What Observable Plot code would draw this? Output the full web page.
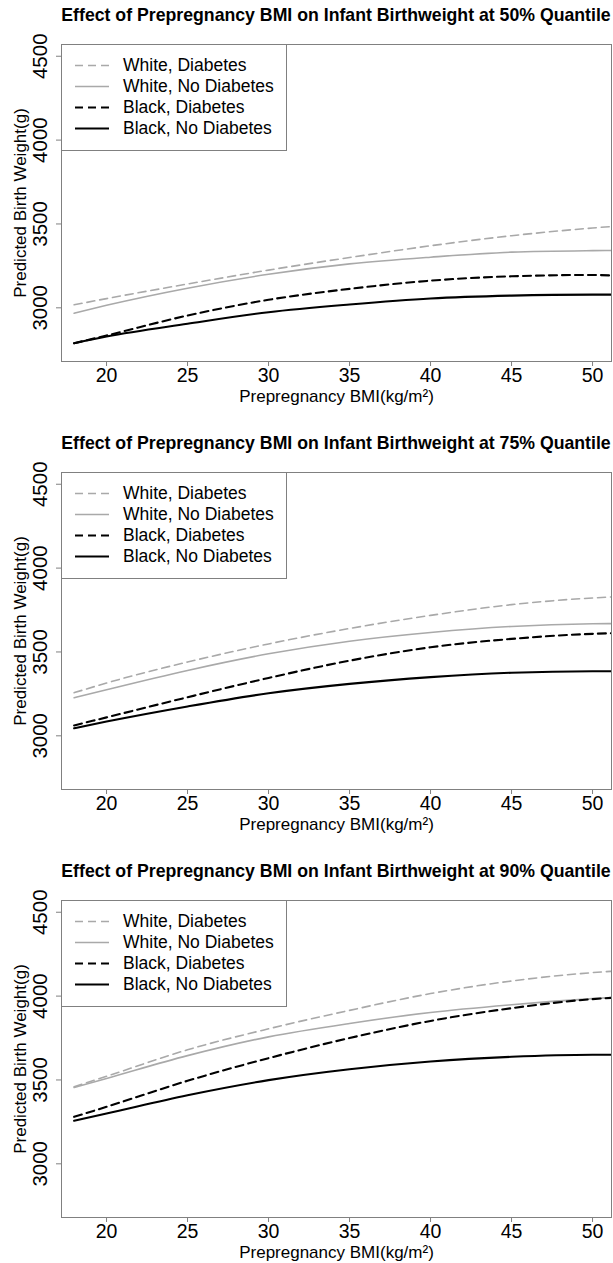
<!DOCTYPE html>
<html><head><meta charset="utf-8">
<script src="https://cdn.jsdelivr.net/npm/d3@7"></script>
<script src="https://cdn.jsdelivr.net/npm/@observablehq/plot@0.6"></script>
<style>
body{margin:0;background:#fff;font-family:"Liberation Sans",Arial,sans-serif;color:#000;}
.panel{position:relative;width:613px;height:428px;overflow:hidden;}
.title{position:absolute;left:61px;width:550px;top:0;height:30px;line-height:30px;text-align:center;font-weight:bold;font-size:17.7px;white-space:nowrap;}
.chart{position:absolute;left:0;top:30px;}
.legend{position:absolute;left:61px;top:44px;width:226px;height:107px;box-sizing:border-box;border:1px solid #808080;background:#fff;}
.row{position:absolute;left:0;width:224px;height:21px;}
.row svg{position:absolute;left:13px;top:0;}
.row span{position:absolute;left:61px;top:0;line-height:21px;font-size:17.5px;white-space:nowrap;}
svg [aria-label="x-axis tick"], svg [aria-label="y-axis tick"]{stroke:#808080;}
</style>
</head><body>
<div id="root"></div>
<script>
// ---- data ----
const bmi = [18, 20, 25, 30, 35, 40, 45, 50, 51.2];
const quantiles = ["50%", "75%", "90%"];
const seriesNames = ["White, Diabetes", "White, No Diabetes", "Black, Diabetes", "Black, No Diabetes"];

const q50WhiteDiabetes   = [3018, 3055, 3142, 3225, 3300, 3370, 3430, 3476, 3485];
const q50WhiteNoDiabetes = [2968, 3015, 3117, 3200, 3262, 3302, 3332, 3341, 3342];
const q50BlackDiabetes   = [2789, 2835, 2954, 3048, 3113, 3162, 3188, 3196, 3193];
const q50BlackNoDiabetes = [2789, 2829, 2905, 2974, 3020, 3056, 3073, 3079, 3079];

const q75WhiteDiabetes   = [3257, 3315, 3440, 3548, 3640, 3718, 3782, 3822, 3828];
const q75WhiteNoDiabetes = [3227, 3275, 3390, 3489, 3564, 3616, 3652, 3668, 3669];
const q75BlackDiabetes   = [3062, 3110, 3230, 3345, 3448, 3528, 3578, 3608, 3612];
const q75BlackNoDiabetes = [3045, 3085, 3175, 3254, 3310, 3350, 3376, 3385, 3385];

const q90WhiteDiabetes   = [3460, 3522, 3680, 3805, 3915, 4015, 4090, 4140, 4148];
const q90WhiteNoDiabetes = [3455, 3509, 3645, 3757, 3837, 3902, 3948, 3985, 3992];
const q90BlackDiabetes   = [3280, 3340, 3495, 3630, 3750, 3852, 3928, 3982, 3990];
const q90BlackNoDiabetes = [3257, 3300, 3409, 3499, 3564, 3610, 3638, 3650, 3650];

const xTicks = [20, 25, 30, 35, 40, 45, 50];
const yTicks = [3000, 3500, 4000, 4500];
const xLabel = "Prepregnancy BMI(kg/m²)";
const yLabel = "Predicted Birth Weight(g)";
const titlePrefix = "Effect of Prepregnancy BMI on Infant Birthweight at ";
const titleSuffix = " Quantile";

// ---- styles ----
const styles = [
  {stroke: "#a9a9a9", width: 1.6, dash: "8,5"},
  {stroke: "#a9a9a9", width: 1.6, dash: null},
  {stroke: "#000000", width: 2.1, dash: "8,5"},
  {stroke: "#000000", width: 2.1, dash: null}
];
const panels = [
  [q50WhiteDiabetes, q50WhiteNoDiabetes, q50BlackDiabetes, q50BlackNoDiabetes],
  [q75WhiteDiabetes, q75WhiteNoDiabetes, q75BlackDiabetes, q75BlackNoDiabetes],
  [q90WhiteDiabetes, q90WhiteNoDiabetes, q90BlackDiabetes, q90BlackNoDiabetes]
];

const root = document.getElementById("root");
panels.forEach((series, p) => {
  const panel = document.createElement("div");
  panel.className = "panel";
  const title = document.createElement("div");
  title.className = "title";
  title.textContent = titlePrefix + quantiles[p] + titleSuffix;
  panel.appendChild(title);

  const marks = [
    Plot.frame({stroke: "#808080", strokeWidth: 1}),
    Plot.axisX({ticks: xTicks, tickSize: 5, tickPadding: 2, fontSize: 19.5, label: null}),
    Plot.axisY({ticks: yTicks, tickSize: 5, tickFormat: () => "", label: null}),
    Plot.text(yTicks, {y: d => d, text: d => String(d), frameAnchor: "left", dx: -21, rotate: -90,
      textAnchor: "middle", lineAnchor: "middle", fontSize: 20.5, fill: "#000"}),
    Plot.text([xLabel], {text: d => d, frameAnchor: "bottom", dy: 35, lineAnchor: "middle", fontSize: 17, fill: "#000"}),
    Plot.text([yLabel], {text: d => d, frameAnchor: "left", dx: -41, rotate: -90, textAnchor: "middle",
      lineAnchor: "middle", fontSize: 17, fill: "#000"})
  ];
  series.forEach((vals, i) => {
    const s = styles[i];
    const rows = bmi.map((b, j) => ({bmi: b, value: vals[j]}));
    marks.push(Plot.line(rows, {x: "bmi", y: "value", stroke: s.stroke, strokeWidth: s.width,
      strokeDasharray: s.dash ?? undefined, curve: "monotone-x", clip: true}));
  });

  const chart = Plot.plot({
    width: 613, height: 398,
    marginLeft: 61, marginRight: 2, marginTop: 14, marginBottom: 67,
    x: {domain: [17.22, 51.17]},
    y: {domain: [2680, 4570]},
    style: {fontFamily: '"Liberation Sans", Arial, sans-serif', background: "white", color: "#000", overflow: "visible"},
    marks
  });
  const wrap = document.createElement("div");
  wrap.className = "chart";
  wrap.appendChild(chart);
  panel.appendChild(wrap);

  const legend = document.createElement("div");
  legend.className = "legend";
  seriesNames.forEach((name, i) => {
    const s = styles[i];
    const row = document.createElement("div");
    row.className = "row";
    row.style.top = (10 + i * 21) + "px";
    const ns = "http://www.w3.org/2000/svg";
    const sv = document.createElementNS(ns, "svg");
    sv.setAttribute("width", "34"); sv.setAttribute("height", "21");
    const ln = document.createElementNS(ns, "line");
    ln.setAttribute("x1", "0"); ln.setAttribute("x2", "34");
    ln.setAttribute("y1", "10.5"); ln.setAttribute("y2", "10.5");
    ln.setAttribute("stroke", s.stroke); ln.setAttribute("stroke-width", s.width);
    if (s.dash) ln.setAttribute("stroke-dasharray", s.dash);
    sv.appendChild(ln);
    row.appendChild(sv);
    const sp = document.createElement("span");
    sp.textContent = name;
    row.appendChild(sp);
    legend.appendChild(row);
  });
  panel.appendChild(legend);
  root.appendChild(panel);
});
</script>
</body></html>
